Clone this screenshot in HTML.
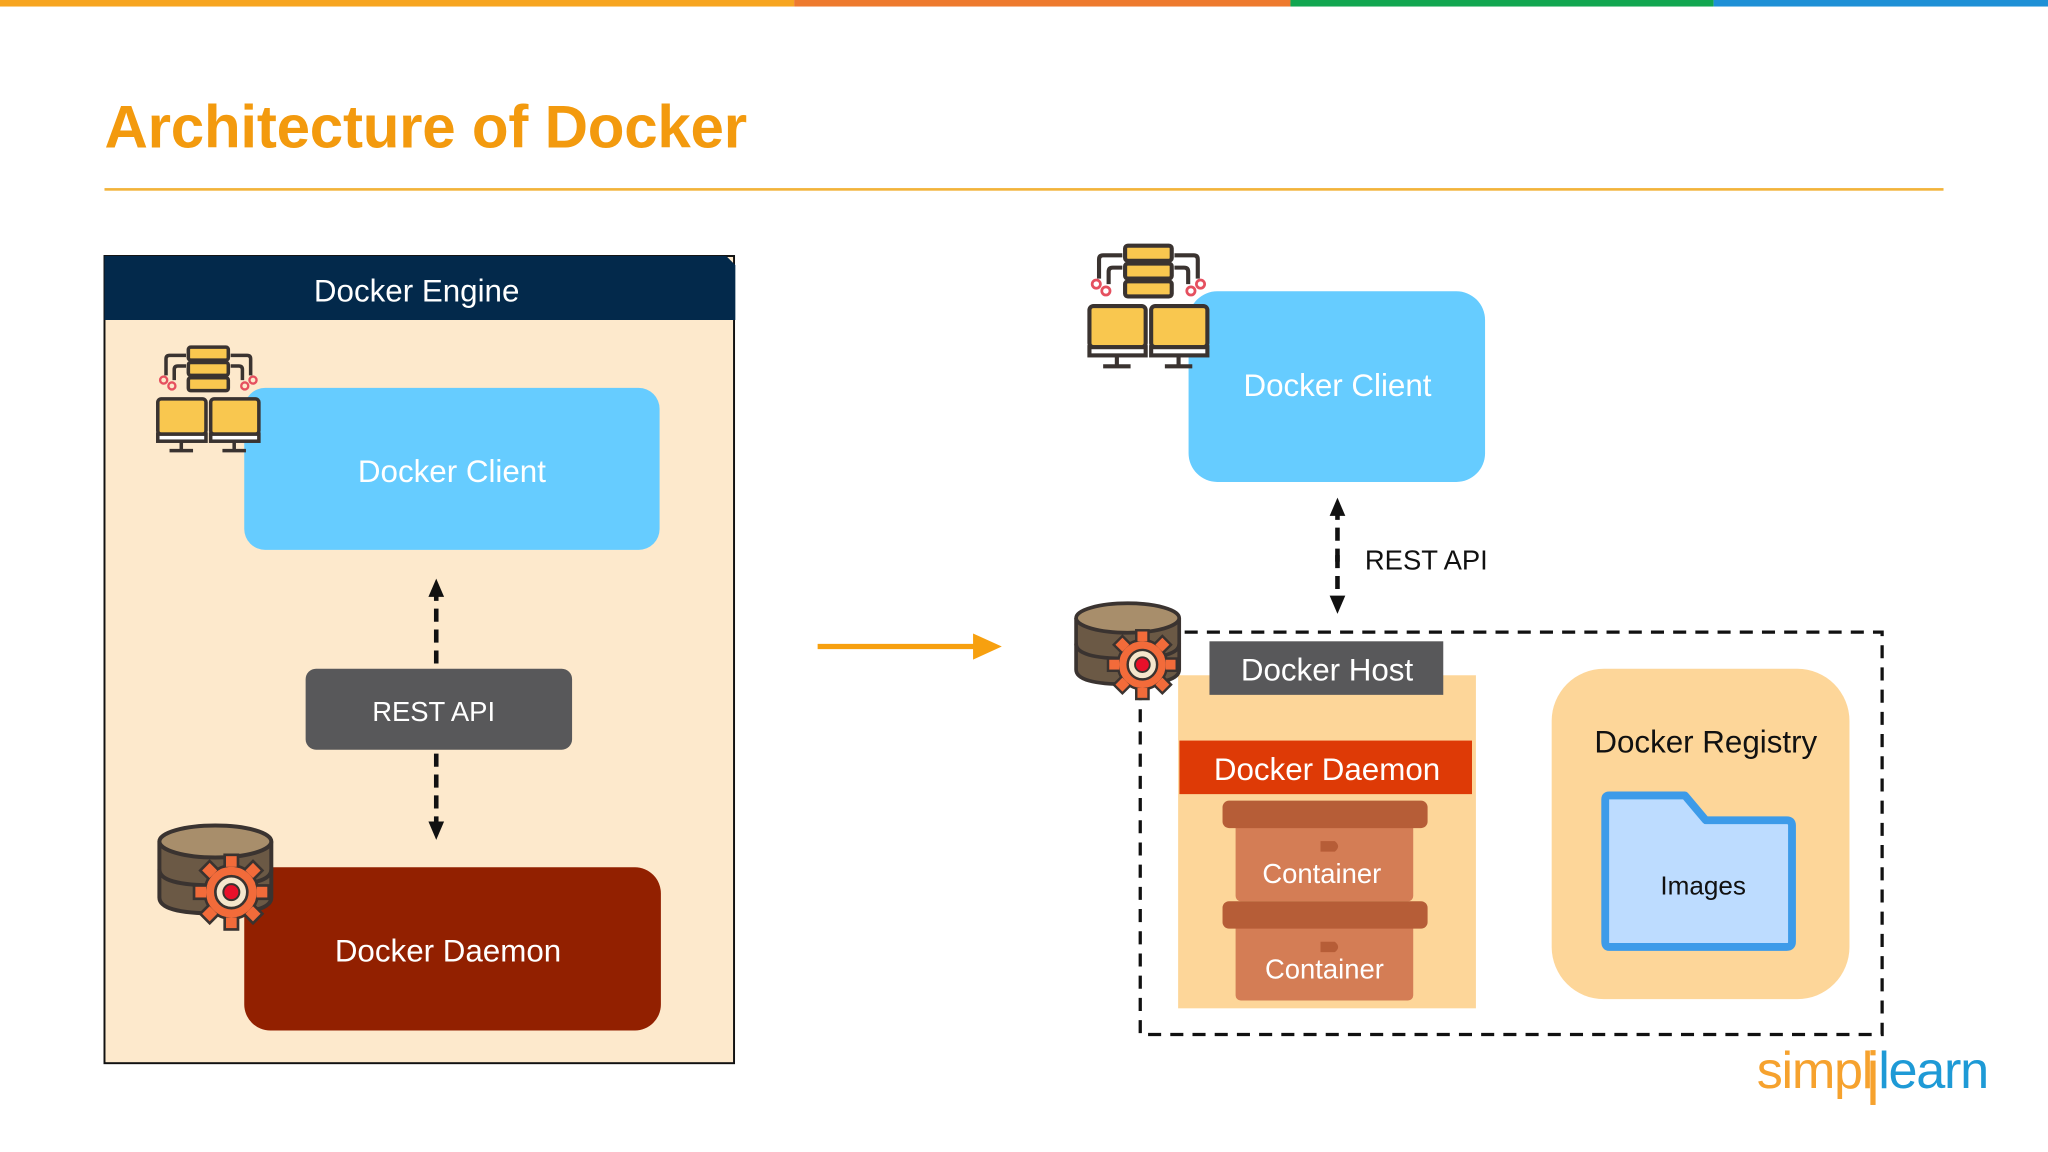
<!DOCTYPE html>
<html><head><meta charset="utf-8"><style>
html,body{margin:0;padding:0;background:#fff;}
svg{display:block}
text{font-family:"Liberation Sans",Arial,sans-serif}
</style></head><body>
<svg width="2048" height="1152" viewBox="0 0 1568 882" xmlns="http://www.w3.org/2000/svg">
<defs>
<g id="pc">
 <rect x="28" y="2" width="34" height="11" rx="2" fill="#F9C74F" stroke="#3A3330" stroke-width="3"/>
 <rect x="28" y="15" width="34" height="11" rx="2" fill="#F9C74F" stroke="#3A3330" stroke-width="3"/>
 <rect x="28" y="28" width="34" height="11" rx="2" fill="#F9C74F" stroke="#3A3330" stroke-width="3"/>
 <path d="M26 9 H12 Q9 9 9 12 V26 M26 18 H19 Q16 18 16 21 V30 M64 9 H78 Q81 9 81 12 V26 M64 18 H71 Q74 18 74 21 V30" fill="none" stroke="#3A3330" stroke-width="3"/>
 <circle cx="7" cy="30" r="3" fill="none" stroke="#E5505F" stroke-width="2"/>
 <circle cx="14" cy="35" r="3" fill="none" stroke="#E5505F" stroke-width="2"/>
 <circle cx="76" cy="35" r="3" fill="none" stroke="#E5505F" stroke-width="2"/>
 <circle cx="83" cy="30" r="3" fill="none" stroke="#E5505F" stroke-width="2"/>
 <rect x="2" y="46" width="41" height="30" rx="3" fill="#F9C74F" stroke="#3A3330" stroke-width="3"/>
 <rect x="2" y="76" width="41" height="6" fill="#fff" stroke="#3A3330" stroke-width="3"/>
 <path d="M22 82 V90 M12 90 H32" stroke="#3A3330" stroke-width="3"/>
 <rect x="47" y="46" width="41" height="30" rx="3" fill="#F9C74F" stroke="#3A3330" stroke-width="3"/>
 <rect x="47" y="76" width="41" height="6" fill="#fff" stroke="#3A3330" stroke-width="3"/>
 <path d="M67 82 V90 M57 90 H77" stroke="#3A3330" stroke-width="3"/>
</g>
<g id="db">
 <path d="M2 14 V56 Q2 68 44 68 Q86 68 86 56 V14" fill="#6B5945" stroke="#3A3330" stroke-width="3"/>
 <path d="M2 35 Q2 47 44 47 Q86 47 86 35" fill="none" stroke="#3A3330" stroke-width="3"/>
 <ellipse cx="44" cy="14" rx="42" ry="12" fill="#A88E6B" stroke="#3A3330" stroke-width="3"/>
 <g transform="translate(56,52)">
  <circle r="20" fill="#F26B3A" stroke="#3A3330" stroke-width="2"/>
  <g fill="#F26B3A" stroke="#3A3330" stroke-width="2">
   <rect x="-5" y="-28" width="10" height="10"/><rect x="-5" y="18" width="10" height="10"/>
   <rect x="-28" y="-5" width="10" height="10"/><rect x="18" y="-5" width="10" height="10"/>
   <rect x="-5" y="-28" width="10" height="10" transform="rotate(45)"/><rect x="-5" y="18" width="10" height="10" transform="rotate(45)"/>
   <rect x="-28" y="-5" width="10" height="10" transform="rotate(45)"/><rect x="18" y="-5" width="10" height="10" transform="rotate(45)"/>
  </g>
  <circle r="19" fill="#F26B3A"/>
  <circle r="12" fill="#F5E6CC" stroke="#3A3330" stroke-width="2"/>
  <circle r="6" fill="#E8102A" stroke="#3A3330" stroke-width="1.5"/>
 </g>
</g>
<marker id="ah" markerWidth="14" markerHeight="14" refX="7" refY="7" orient="auto" markerUnits="userSpaceOnUse"><path d="M0 1 L14 7 L0 13 z" fill="#111"/></marker>
</defs>

<rect x="0" y="0" width="608" height="5" fill="#F7A520"/>
<rect x="608" y="0" width="380" height="5" fill="#EE7A2E"/>
<rect x="988" y="0" width="324" height="5" fill="#12A650"/>
<rect x="1312" y="0" width="256" height="5" fill="#1E90D6"/>

<text x="80" y="113" font-size="46" font-weight="bold" fill="#F39A0E" textLength="492">Architecture of Docker</text>
<rect x="80" y="144" width="1408" height="2" fill="#F2B33A"/>

<!-- Left engine -->
<rect x="80" y="196" width="482" height="618" fill="#FDE9CC" stroke="#111" stroke-width="1.5"/>
<path d="M80 196 H556 L563 203 V245 H80 Z" fill="#03294B"/>
<text x="319" y="231" font-size="24" fill="#fff" text-anchor="middle">Docker Engine</text>
<rect x="187" y="297" width="318" height="124" rx="16" fill="#66CCFF"/>
<text x="346" y="369" font-size="24" fill="#fff" text-anchor="middle">Docker Client</text>
<use href="#pc" transform="translate(119,264) scale(0.9)"/>
<line x1="334" y1="508" x2="334" y2="450" stroke="#111" stroke-width="3.5" stroke-dasharray="10,6" marker-end="url(#ah)"/>
<rect x="234" y="512" width="204" height="62" rx="8" fill="#58585A"/>
<text x="332" y="552" font-size="21" fill="#fff" text-anchor="middle">REST API</text>
<line x1="334" y1="577" x2="334" y2="636" stroke="#111" stroke-width="3.5" stroke-dasharray="10,6" marker-end="url(#ah)"/>
<rect x="187" y="664" width="319" height="125" rx="20" fill="#922000"/>
<text x="343" y="736" font-size="24" fill="#fff" text-anchor="middle">Docker Daemon</text>
<use href="#db" transform="translate(120,630) scale(1.02)"/>

<!-- middle arrow -->
<line x1="626" y1="495" x2="748" y2="495" stroke="#F7A00F" stroke-width="4"/>
<path d="M745 485 L767 495 L745 505 Z" fill="#F7A00F"/>

<!-- Right -->
<rect x="910" y="223" width="227" height="146" rx="22" fill="#66CCFF"/>
<text x="1024" y="303" font-size="24" fill="#fff" text-anchor="middle">Docker Client</text>
<use href="#pc" transform="translate(832,186) scale(1.05)"/>
<line x1="1024" y1="430" x2="1024" y2="388" stroke="#111" stroke-width="3.5" stroke-dasharray="10,6" marker-end="url(#ah)"/>
<line x1="1024" y1="425" x2="1024" y2="463" stroke="#111" stroke-width="3.5" stroke-dasharray="10,6" marker-end="url(#ah)"/>
<text x="1045" y="436" font-size="21" fill="#111">REST API</text>

<rect x="873" y="484" width="568" height="308" fill="none" stroke="#111" stroke-width="2.5" stroke-dasharray="10,7"/>
<rect x="902" y="517" width="228" height="255" fill="#FDD699"/>
<rect x="926" y="491" width="179" height="41" fill="#58585A"/>
<text x="1016" y="521" font-size="24" fill="#fff" text-anchor="middle">Docker Host</text>
<rect x="903" y="567" width="224" height="41" fill="#DE3A06"/>
<text x="1016" y="597" font-size="24" fill="#fff" text-anchor="middle">Docker Daemon</text>
<rect x="946" y="630" width="136" height="60" rx="4" fill="#D47D55"/>
<rect x="936" y="613" width="157" height="21" rx="5" fill="#B65D37"/>
<path d="M1011 644 H1022 Q1027 648 1022 652 H1011 Z" fill="#B65D37"/>
<text x="1012" y="676" font-size="21" fill="#fff" text-anchor="middle">Container</text>
<rect x="946" y="706" width="136" height="60" rx="4" fill="#D47D55"/>
<rect x="936" y="690" width="157" height="21" rx="5" fill="#B65D37"/>
<path d="M1011 721 H1022 Q1027 725 1022 729 H1011 Z" fill="#B65D37"/>
<text x="1014" y="749" font-size="21" fill="#fff" text-anchor="middle">Container</text>
<use href="#db" transform="translate(822,460) scale(0.94)"/>

<rect x="1188" y="512" width="228" height="253" rx="40" fill="#FDD699"/>
<text x="1306" y="576" font-size="24" fill="#111" text-anchor="middle">Docker Registry</text>
<path d="M1229 612 Q1229 609 1232 609 H1290 L1306 628 H1368 Q1372 628 1372 632 V721 Q1372 725 1368 725 H1232 Q1229 725 1229 721 Z" fill="#BDDCFF" stroke="#3D9BE9" stroke-width="6" stroke-linejoin="round"/>
<text x="1304" y="685" font-size="20" fill="#111" text-anchor="middle">Images</text>

<text x="1345" y="833" font-size="40" fill="#F6A22E" letter-spacing="-1">simpl</text>
<rect x="1432" y="812" width="4" height="34" fill="#F6A22E"/>
<rect x="1432" y="804" width="4" height="4" fill="#F6A22E"/>
<text x="1438" y="833" font-size="40" fill="#1E9AD6" letter-spacing="-1">learn</text>
</svg>
</body></html>
